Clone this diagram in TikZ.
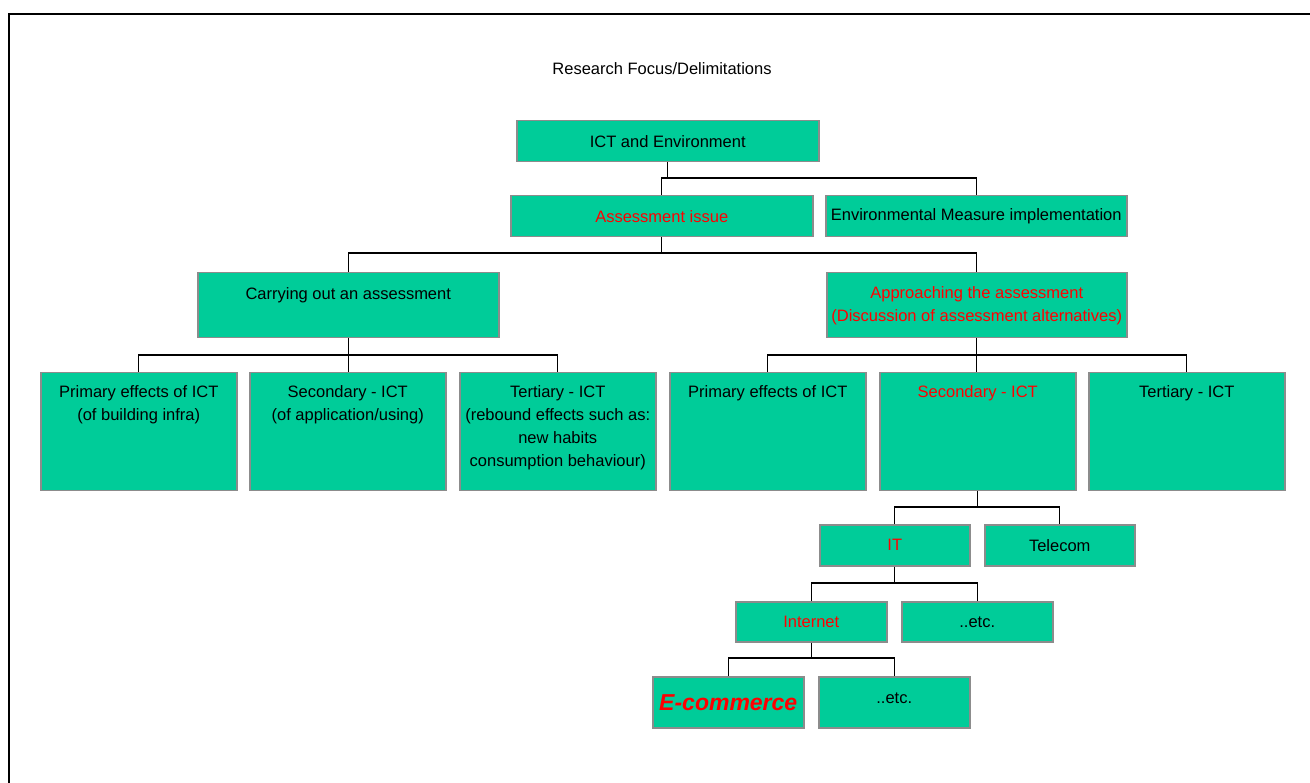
\documentclass[tikz,border=0pt]{standalone}
\usepackage{fontspec}
\setmainfont{Liberation Sans}
\definecolor{boxfill}{HTML}{00CC99}
\definecolor{boxline}{HTML}{8C8C8C}
\definecolor{redtext}{HTML}{FF0000}
\begin{document}
\begin{tikzpicture}[x=1pt,y=-1pt,
  txt/.style={inner sep=0pt, align=center, font=\fontsize{16.5}{23}\selectfont},
  box/.style={txt, draw=boxline, line width=1.5pt, fill=boxfill, anchor=north west},
  wide/.style={minimum width=302pt, minimum height=41pt},
  tall/.style={minimum width=196pt, minimum height=118pt},
  small/.style={minimum width=151pt, minimum height=41pt},
  hl/.style={text=redtext},
  conn/.style={draw=black, line width=1.4pt}]
\useasboundingbox (0,0) rectangle (1310,783);
% frame
\draw[line width=2pt] (9,783) -- (9,14) -- (1310,14);
% title
\node[txt] (title) at (662,69) {Research Focus/Delimitations};
% level 0/1
\node[box, wide] (ict) at (516,120) {ICT and Environment};
\node[box, wide, hl] (ass) at (510,195) {Assessment issue};
\node[box, wide, minimum width=301pt] (env) at (825,195) {Environmental Measure implementation};
% level 2
\node[box, minimum width=301pt, minimum height=65pt] (carry) at (197,272) {};
\node[txt, anchor=north] (carryT) at ([yshift=-15pt]carry.north) {Carrying out an assessment};
\node[box, minimum width=300pt, minimum height=65pt] (appr) at (826,272) {};
\node[txt, hl, anchor=north] (apprT) at ([yshift=-14pt]appr.north) {Approaching the assessment\\(Discussion of assessment alternatives)};
% level 3 left
\node[box, tall] (l1) at (40,372) {};
\node[txt, anchor=north] (l1T) at ([yshift=-13pt]l1.north) {Primary effects of ICT\\(of building infra)};
\node[box, tall] (l2) at (249,372) {};
\node[txt, anchor=north] (l2T) at ([yshift=-13pt]l2.north) {Secondary - ICT\\(of application/using)};
\node[box, tall] (l3) at (459,372) {};
\node[txt, anchor=north] (l3T) at ([yshift=-13pt]l3.north) {Tertiary - ICT\\(rebound effects such as:\\new habits\\consumption behaviour)};
% level 3 right
\node[box, tall] (r1) at (669,372) {};
\node[txt, anchor=north] (r1T) at ([yshift=-13pt]r1.north) {Primary effects of ICT};
\node[box, tall] (r2) at (879,372) {};
\node[txt, hl, anchor=north] (r2T) at ([yshift=-13pt]r2.north) {Secondary - ICT};
\node[box, tall] (r3) at (1088,372) {};
\node[txt, anchor=north] (r3T) at ([yshift=-13pt]r3.north) {Tertiary - ICT};
% lower levels
\node[box, small, minimum width=150pt, hl] (it) at (819,524) {IT};
\node[box, small, minimum width=150pt] (tel) at (984,524) {Telecom};
\node[box, small, minimum height=40pt, hl] (inet) at (735,601) {Internet};
\node[box, small, minimum height=40pt] (etcA) at (901,601) {..etc.};
\node[box, small, minimum height=51pt, hl, font=\fontsize{23}{26}\selectfont\bfseries\itshape] (ecom) at (652,676) {E-commerce};
\node[box, small, minimum height=51pt] (etcB) at (818,676) {};
\node[txt] (etcBT) at ([yshift=4.5pt]etcB.center) {..etc.};
% bus coordinates
\coordinate (b1) at (0,178);
\coordinate (b2) at (0,253);
\coordinate (b3) at (0,355);
\coordinate (b5) at (0,507);
\coordinate (b6) at (0,583);
\coordinate (b7) at (0,658);
% connectors
\draw[conn] (ict.south) -- (ict.south |- b1);
\draw[conn] (ass.north) |- (env.north |- b1) -- (env.north);
\draw[conn] (ass.south) -- (ass.south |- b2);
\draw[conn] (carry.north) |- (appr.north |- b2) -- (appr.north);
\draw[conn] (carry.south) -- (carry.south |- l2.north);
\draw[conn] (l1.north) |- (l3.north |- b3) -- (l3.north);
\draw[conn] (appr.south) -- (appr.south |- r2.north);
\draw[conn] (r1.north) |- (r3.north |- b3) -- (r3.north);
\draw[conn] (r2.south) -- (r2.south |- b5);
\draw[conn] (it.north) |- (tel.north |- b5) -- (tel.north);
\draw[conn] (it.south) -- (it.south |- b6);
\draw[conn] (inet.north) |- (etcA.north |- b6) -- (etcA.north);
\draw[conn] (inet.south) -- (inet.south |- b7);
\draw[conn] (ecom.north) |- (etcB.north |- b7) -- (etcB.north);
\end{tikzpicture}
\end{document}
